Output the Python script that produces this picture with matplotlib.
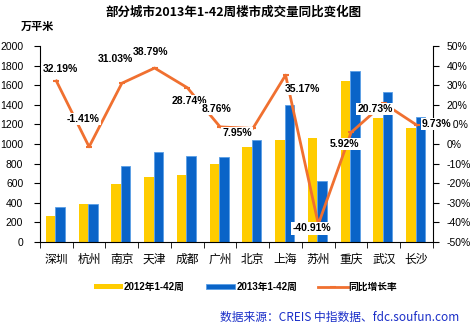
import numpy as np
import matplotlib
matplotlib.use('Agg')
import matplotlib.pyplot as plt

plt.rcParams['font.family'] = ['Liberation Sans', 'Noto Sans CJK SC', 'DejaVu Sans']

# data: sales area (10k m2) for weeks 1-42, and year-on-year change
cities = ['深圳', '杭州', '南京', '天津', '成都', '广州', '北京', '上海', '苏州', '重庆', '武汉', '长沙']
area_2012 = [270, 390, 594, 659, 682, 794, 965, 1037, 1060, 1645, 1270, 1165]
area_2013 = [357, 385, 778, 915, 878, 864, 1042, 1402, 626, 1742, 1533, 1278]
yoy_rate = [32.19, -1.41, 31.03, 38.79, 28.74, 8.76, 7.95, 35.17, -40.91, 5.92, 20.73, 9.73]

# label offsets (category units, percent) from each point
label_dx = [0.11, -0.19, -0.21, -0.11, 0.05, -0.10, -0.48, 0.50, -0.19, -0.19, -0.26, 0.62]
label_dy = [6.1, 14.2, 12.4, 8.1, -6.8, 9.1, -2.3, -7.1, -2.0, -5.9, -2.8, 0.5]

c_2012 = '#FFCC00'
c_2013 = '#0A64C8'
c_rate = '#F07030'

fig = plt.figure(figsize=(4.72, 3.28), dpi=100)
ax = fig.add_axes([0.0847, 0.262, 0.8326, 0.5976])
x = np.arange(len(cities))
w = 0.29
ax.bar(x - w / 2 - 0.03, area_2012, w, color=c_2012, label='2012年1-42周', zorder=2)
ax.bar(x + w / 2 - 0.03, area_2013, w, color=c_2013, edgecolor='#5A9EE6', linewidth=0.6,
       label='2013年1-42周', zorder=2)
ax.set_xlim(-0.5, len(cities) - 0.5)
ax.set_ylim(0, 2000)
ax.set_yticks(np.arange(0, 2001, 200))
ax.set_xticks(x)
ax.set_xticklabels(cities, fontsize=8.5, family=['Noto Sans CJK SC'])
ax.set_xticks(np.arange(-0.5, len(cities), 1), minor=True)
ax.tick_params(axis='x', which='major', length=0, pad=8)
ax.tick_params(axis='x', which='minor', length=4, direction='out')
ax.tick_params(axis='y', length=4, direction='out', labelsize=7.5, pad=8)
ax.spines['top'].set_visible(False)
ax.spines['right'].set_visible(False)

ax2 = ax.twinx()
ax2.plot(x, yoy_rate, color=c_rate, lw=2, marker='_', ms=5, mew=1.5,
         label='同比增长率', zorder=3)
ax2.set_ylim(-50, 50)
ax2.set_yticks(np.arange(-50, 51, 10))
ax2.yaxis.set_major_formatter(matplotlib.ticker.FuncFormatter(lambda v, p: f'{v:.0f}%'))
ax2.tick_params(axis='y', length=4, direction='out', labelsize=7.5, pad=6)
ax2.spines['top'].set_visible(False)
ax2.spines['left'].set_visible(False)
ax2.spines['bottom'].set_visible(False)

for i, r in enumerate(yoy_rate):
    ax2.text(i + label_dx[i], r + label_dy[i], f'{r:.2f}%', ha='center', va='center',
             fontsize=7.5, fontweight='bold', zorder=5,
             bbox=dict(facecolor='white', edgecolor='none', pad=1.0))

fig.text(0.494, 0.963, '部分城市2013年1-42周楼市成交量同比变化图', ha='center', va='center',
         fontsize=9, fontweight='bold', family=['Noto Sans CJK SC'])
fig.text(0.045, 0.92, '万平米', ha='left', va='center', fontsize=8,
         fontweight='bold', family=['Noto Sans CJK SC'])

h1, l1 = ax.get_legend_handles_labels()
h2, l2 = ax2.get_legend_handles_labels()
leg = fig.legend(h1 + h2, l1 + l2, loc='center', bbox_to_anchor=(0.52, 0.125), ncol=3,
                 frameon=False, handlelength=3.0, handleheight=0.5, columnspacing=2.2,
                 handletextpad=0.1, prop={'family': ['Liberation Sans', 'Noto Sans CJK SC'],
                                          'size': 7, 'weight': 'bold'})

fig.text(0.972, 0.033, '数据来源：CREIS 中指数据、fdc.soufun.com', ha='right', va='center',
         fontsize=8.5, color='#1A2EC8', family=['Noto Sans CJK SC'])

fig.savefig('out.png', dpi=100)
